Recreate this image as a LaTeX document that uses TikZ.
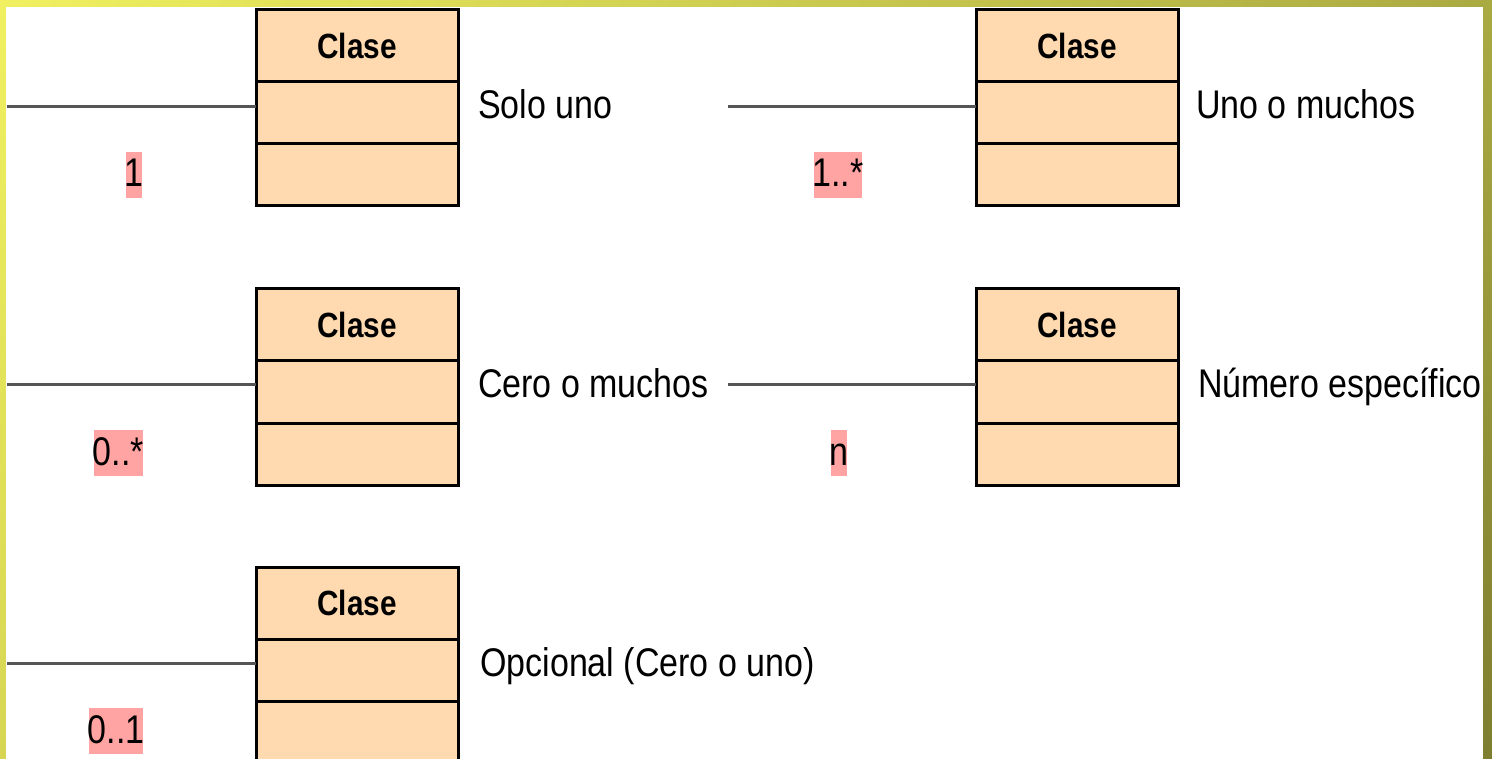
\documentclass[tikz,border=0pt]{standalone}
\usetikzlibrary{shadings}
\usepackage{fontspec}
\setmainfont{Liberation Sans}[FakeStretch=0.85]
\definecolor{peach}{RGB}{255,218,176}
\definecolor{pinklab}{RGB}{255,163,163}
\definecolor{linegray}{RGB}{85,85,85}
\definecolor{bordUL}{RGB}{240,240,96}
\definecolor{bordUR}{RGB}{170,170,66}
\definecolor{bordLL}{RGB}{214,214,84}
\definecolor{bordLR}{RGB}{126,126,48}
\tikzset{
  ctitle/.style={draw=black, line width=3pt, fill=peach, minimum width=202pt, minimum height=72pt, inner sep=0pt, outer sep=0pt, font=\fontsize{35}{40}\selectfont\bfseries},
  ccomp/.style={draw=black, line width=3pt, fill=peach, minimum width=202pt, minimum height=62pt, inner sep=0pt, outer sep=0pt},
  assoc/.style={draw=linegray, line width=3pt},
  mult/.style={fill=pinklab, inner xsep=-1.5pt, inner ysep=0pt, text height=35pt, text depth=11pt, anchor=base, font=\fontsize{40}{48}\selectfont},
  desc/.style={anchor=base west, inner sep=0pt, font=\fontsize{40}{48}\selectfont}
}
\newcommand\umlclass[3]{%
  \node[ctitle, anchor=north west] (#1t) at (#2,#3) {Clase};
  \node[ccomp, anchor=north] (#1a) at (#1t.south) {};
  \node[ccomp, anchor=north] (#1b) at (#1a.south) {};
}
\begin{document}
\begin{tikzpicture}[x=1pt,y=-1pt]
\useasboundingbox (0,0) rectangle (1492,759);
\shade[upper left=bordUL, upper right=bordUR, lower left=bordLL, lower right=bordLR] (0,0) rectangle (1492,759);
\fill[white] (6,7) rectangle (1483,759);
\begin{scope}
\clip (6,7) rectangle (1483,759);
% classes
\umlclass{a}{256}{10}
\umlclass{b}{976}{10}
\umlclass{c}{256}{289}
\umlclass{d}{976}{289}
\umlclass{e}{256}{567}
% connector ends
\coordinate (la) at (7,107);
\coordinate (lb) at (728,107);
\coordinate (lc) at (7,385);
\coordinate (ld) at (728,385);
\coordinate (le) at (7,663);
\draw[assoc] (la) -- (la -| aa.west);
\draw[assoc] (lb) -- (lb -| ba.west);
\draw[assoc] (lc) -- (lc -| ca.west);
\draw[assoc] (ld) -- (ld -| da.west);
\draw[assoc] (le) -- (le -| ea.west);
% multiplicities
\node[mult] (ma) at (134,187) {1};
\node[mult] (mb) at (838,187) {1..*};
\node[mult] (mc) at (118.5,465) {0..*};
\node[mult] (md) at (839,465) {n};
\node[mult] (me) at (116,743) {0..1};
% descriptions
\node[desc] (da1) at (478,119) {Solo uno};
\node[desc] (db1) at (1196,119) {Uno o muchos};
\node[desc] (dc1) at (478,397) {Cero o muchos};
\node[desc] (dd1) at (1198,397) {Número específico};
\node[desc] (de1) at (480,676) {Opcional (Cero o uno)};
\end{scope}
\end{tikzpicture}
\end{document}
